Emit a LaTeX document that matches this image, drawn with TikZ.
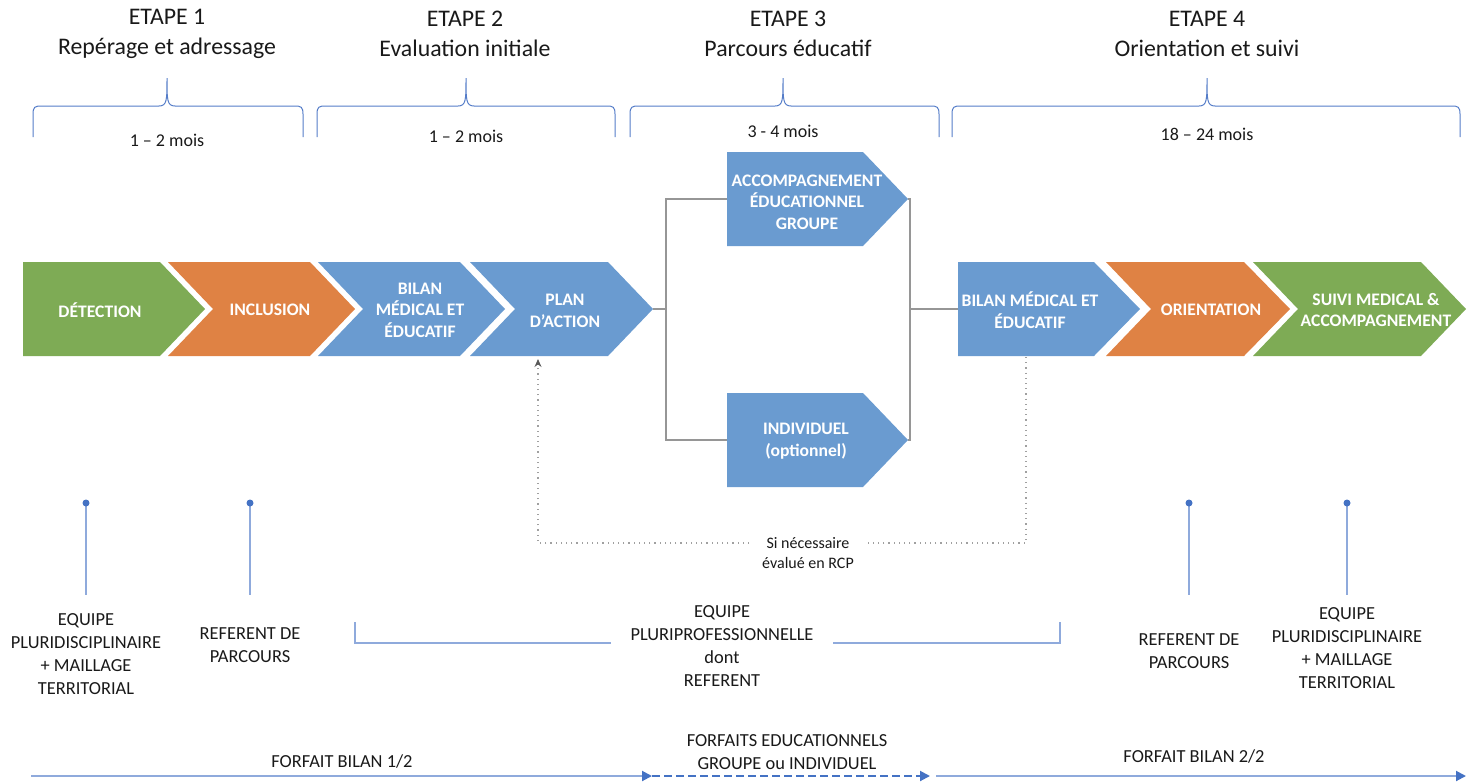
\documentclass[tikz,border=0pt]{standalone}
\usepackage{fontspec}
\setmainfont{Carlito}
\usepackage{tikz}
\usetikzlibrary{arrows.meta}

\newcommand{\etapebrace}[3]{%
  \draw[bracket] (#1,137) -- (#1,114)
    .. controls (#1,107) and ([xshift=1pt]#1,106) .. ([xshift=4pt]#1,106)
    -- ([xshift=-4pt]#2,106)
    .. controls (#2,106) and (#2,100) .. (#2,78)
    .. controls (#2,100) and (#2,106) .. ([xshift=4pt]#2,106)
    -- ([xshift=-4pt]#3,106)
    .. controls ([xshift=-1pt]#3,106) and (#3,107) .. (#3,114) -- (#3,137);}

\begin{document}
\begin{tikzpicture}[x=0.5pt,y=-0.5pt,
  etape/.style={align=center,text=ctext,font=\fontsize{11.9}{15}\selectfont},
  duree/.style={text=ctext,font=\fontsize{9}{11}\selectfont},
  steplabel/.style={text=white,align=center,inner sep=0pt,font=\bfseries\fontsize{8.8}{10.7}\selectfont},
  acteur/.style={align=center,text=ctext,font=\fontsize{9.2}{11.4}\selectfont},
  bracket/.style={draw=cbr,line width=0.5pt},
  pin/.style={draw=cpl,line width=0.75pt},
  link/.style={draw=cli,line width=0.75pt},
  feedback/.style={draw=cfb,line width=0.6pt,dotted,-{Stealth[length=4pt,width=3.5pt,color=cfa,fill=cfa]}},
  timeline/.style={draw=cpl,line width=1pt,-{Triangle[length=5pt,width=5pt,color=cpd,fill=cpd]}},
]
%
\useasboundingbox (0,0) rectangle (1468,782);
%
\definecolor{cgreen}{RGB}{126,171,85}
\definecolor{corange}{RGB}{223,130,68}
\definecolor{cblue}{RGB}{106,155,208}
\definecolor{cbr}{RGB}{84,124,200}
\definecolor{cpl}{RGB}{143,170,220}
\definecolor{cpd}{RGB}{68,114,196}
\definecolor{cli}{RGB}{150,150,150}
\definecolor{cfb}{RGB}{160,160,160}
\definecolor{cfa}{RGB}{90,90,90}
\definecolor{ctext}{RGB}{25,25,25}
%
\node[etape] (etape1) at (167,34) {ETAPE 1\\Repérage et adressage};
\node[etape] (etape2) at (465,34) {ETAPE 2\\Evaluation initiale};
\node[etape] (etape3) at (788,34) {ETAPE 3\\Parcours éducatif};
\node[etape] (etape4) at (1207,34) {ETAPE 4\\Orientation et suivi};
%
\etapebrace{33}{167}{303}
\etapebrace{317}{466}{615}
\etapebrace{630}{783}{939}
\etapebrace{952}{1207}{1460}
%
\node[duree] (duree1) at (167,140) {1 – 2 mois};
\node[duree] (duree2) at (466,136) {1 – 2 mois};
\node[duree] (duree3) at (783,131) {3 - 4 mois};
\node[duree] (duree4) at (1207,134) {18 – 24 mois};
%
\coordinate (plan-tip) at (653,309);
\coordinate (split) at (666,309);
\coordinate (groupe-in) at (727,199);
\coordinate (indiv-in) at (727,440);
\coordinate (groupe-tip) at (908,199);
\coordinate (indiv-tip) at (908,440);
\coordinate (merge) at (910,309);
\coordinate (bilan2-in) at (958,309);
\draw[link] (plan-tip) -- (split);
\draw[link] (groupe-in) -| (split) |- (indiv-in);
\draw[link] (groupe-tip) -| (merge) |- (indiv-tip);
\draw[link] (merge) -- (bilan2-in);
%
\fill[cgreen] (23,262) -- (160,262) -- (205,309) -- (160,356) -- (23,356) -- cycle;
\fill[corange] (168,262) -- (310,262) -- (355,309) -- (310,356) -- (168,356) -- (213,309) -- cycle;
\fill[cblue] (318,262) -- (460,262) -- (505,309) -- (460,356) -- (318,356) -- (363,309) -- cycle;
\fill[cblue] (470,262) -- (608,262) -- (653,309) -- (608,356) -- (470,356) -- (515,309) -- cycle;
\fill[cblue] (727,152) -- (863,152) -- (908,199) -- (863,246) -- (727,246) -- cycle;
\fill[cblue] (727,393) -- (863,393) -- (908,440) -- (863,487) -- (727,487) -- cycle;
\fill[cblue] (958,262) -- (1094,262) -- (1140,309) -- (1094,356) -- (958,356) -- cycle;
\fill[corange] (1106,262) -- (1244,262) -- (1290,309) -- (1244,356) -- (1106,356) -- (1151,309) -- cycle;
\fill[cgreen] (1253,262) -- (1421,262) -- (1466,309) -- (1421,356) -- (1253,356) -- (1298,309) -- cycle;
%
\node[steplabel] (detection) at (100,310) {DÉTECTION};
\node[steplabel] (inclusion) at (270,310) {INCLUSION};
\node[steplabel] (bilan1) at (420,310) {BILAN\\MÉDICAL ET\\ÉDUCATIF};
\node[steplabel] (plan) at (565,311) {PLAN\\D’ACTION};
\node[steplabel] (groupe) at (807,202) {ACCOMPAGNEMENT\\ÉDUCATIONNEL\\GROUPE};
\node[steplabel] (individuel) at (806,441) {INDIVIDUEL\\(optionnel)};
\node[steplabel] (bilan2) at (1030,310) {BILAN MÉDICAL ET\\ÉDUCATIF};
\node[steplabel] (orientation) at (1211,310) {ORIENTATION};
\node[steplabel] (suivi) at (1376,310) {SUIVI MEDICAL \&\\ACCOMPAGNEMENT};
%
\coordinate (bilan2-foot) at (1026,357);
\coordinate (plan-foot) at (538,359);
\coordinate (rcp-corner) at (1026,543);
\draw[feedback] (bilan2-foot) |- (plan-foot |- rcp-corner) -- (plan-foot);
\node[fill=white,align=center,text=ctext,inner xsep=6pt,font=\fontsize{8}{10}\selectfont] (rcp) at (808,553) {Si nécessaire\\évalué en RCP};
%
\foreach \x/\n in {86/1,250/2,1189/3,1347/4}{
  \coordinate (pin\n) at (\x,503);
  \coordinate (pin\n-end) at (\x,595);
  \draw[pin] (pin\n) -- (pin\n-end);
  \fill[cpd] (pin\n) circle (3.5);
}
%
\node[acteur] (equipe1) at (86,654) {EQUIPE\\PLURIDISCIPLINAIRE\\+ MAILLAGE\\TERRITORIAL};
\node[acteur] (referent1) at (250,645) {REFERENT DE\\PARCOURS};
\node[acteur] (referent2) at (1189,651) {REFERENT DE\\PARCOURS};
\node[acteur] (equipe2) at (1347,648) {EQUIPE\\PLURIDISCIPLINAIRE\\+ MAILLAGE\\TERRITORIAL};
%
\coordinate (equipe-l) at (355,622);
\coordinate (equipe-c) at (722,643);
\coordinate (equipe-r) at (1060,622);
\draw[pin] (equipe-l) |- (equipe-c) -| (equipe-r);
\node[acteur,fill=white,inner xsep=10pt] (equipe3) at (722,646) {EQUIPE\\PLURIPROFESSIONNELLE\\dont\\REFERENT};
%
\coordinate (t0) at (31,776);
\coordinate (t1) at (652,776);
\coordinate (t2) at (930,776);
\coordinate (t3) at (936,776);
\coordinate (t4) at (1466,776);
\draw[timeline] (t0) -- (t1);
\draw[timeline,draw=cpd,dash pattern=on 4pt off 2pt] (t1) -- (t2);
\draw[timeline] (t3) -- (t4);
%
\node[acteur] (forfait1) at (342,761) {FORFAIT BILAN 1/2};
\node[acteur] (forfait2) at (787,752) {FORFAITS EDUCATIONNELS\\GROUPE ou INDIVIDUEL};
\node[acteur] (forfait3) at (1194,756) {FORFAIT BILAN 2/2};
%
\end{tikzpicture}
\end{document}
